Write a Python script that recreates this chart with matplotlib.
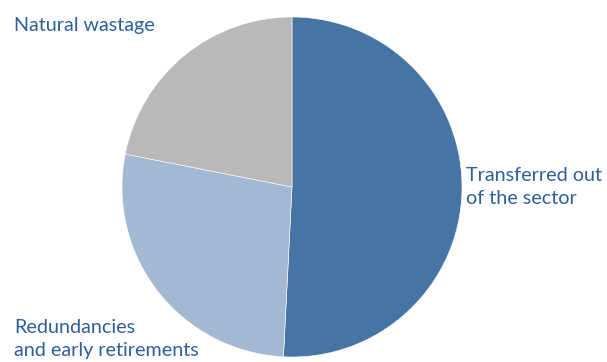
import matplotlib
matplotlib.use("Agg")
import matplotlib.pyplot as plt

# Share of job losses by route (per cent)
labels = ["Transferred out\nof the sector", "Redundancies\nand early retirements", "Natural wastage"]
shares = [50.8, 27.3, 21.9]
colours = ["#4674a5", "#a3b9d3", "#b9b9b9"]

W, H = 607, 362
fig = plt.figure(figsize=(W / 100, H / 100), dpi=100)

# pie centre and radius in pixels
cx, cy, r = 292, 187, 170
ax = fig.add_axes([(cx - r) / W, (H - cy - r) / H, 2 * r / W, 2 * r / H])
ax.pie(shares, colors=colours, startangle=90, counterclock=False, radius=1,
       wedgeprops=dict(edgecolor="white", linewidth=0.4))
ax.set_xlim(-1, 1)
ax.set_ylim(-1, 1)
ax.axis("off")

txt = dict(color="#2f5f9b", fontsize=14.2, family="Lato", va="center", ha="left",
           linespacing=1.42)
fig.text(14 / W, 1 - 26 / H, labels[2], **txt)
fig.text(466 / W, 1 - 187 / H, labels[0], **txt)
fig.text(14 / W, 1 - 339 / H, labels[1], **txt)

fig.savefig("out.png", dpi=100)
